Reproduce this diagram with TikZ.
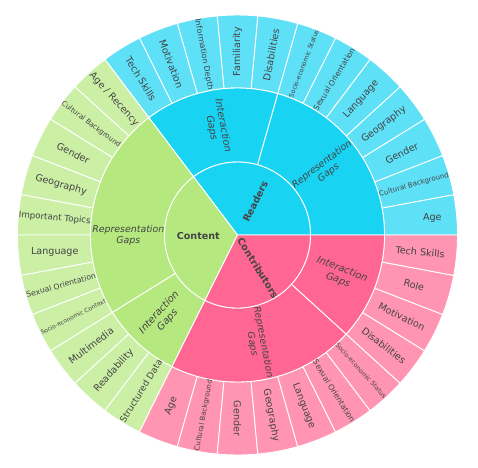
\documentclass[tikz,border=0pt]{standalone}
\usepackage{fontspec}
\setmainfont{DejaVu Sans}
\usepackage{graphicx}
\definecolor{colR}{HTML}{19D3F3}
\definecolor{colC}{HTML}{B6E880}
\definecolor{colP}{HTML}{FF6692}
\definecolor{leafR}{HTML}{5EE0F7}
\definecolor{leafC}{HTML}{CCEFA6}
\definecolor{leafP}{HTML}{FF94B3}
\definecolor{txt}{HTML}{444444}
\newsavebox\lblbox
\newcommand\fitlbl[1]{\sbox\lblbox{#1}\ifdim\wd\lblbox>72pt\resizebox{72pt}{!}{\usebox\lblbox}\else\usebox\lblbox\fi}
\newcommand\agerec{Age / Recency}
\tikzset{
  segline/.style={draw=white, line width=0.9pt},
  leaflbl/.style={text=txt, inner sep=0pt, font=\fontsize{9.6}{11}\selectfont},
  midlbl/.style={text=txt, inner sep=0pt, align=center, font=\fontsize{9.4}{11}\selectfont\itshape},
  toplbl/.style={text=txt, inner sep=0pt, font=\fontsize{9.6}{11}\selectfont\bfseries}
}
\newcommand\seg[5]{\filldraw[fill=#1,segline] ([shift={(#2:#4pt)}]C) arc[start angle=#2,end angle=#3,radius=#4pt] -- ([shift={(#3:#5pt)}]C) arc[start angle=#3,end angle=#2,radius=#5pt] -- cycle;}
\newcommand\pie[4]{\filldraw[fill=#1,segline] (C) -- ([shift={(#2:#4pt)}]C) arc[start angle=#2,end angle=#3,radius=#4pt] -- cycle;}
\begin{document}
\begin{tikzpicture}[x=1pt,y=1pt]
\useasboundingbox (0,0) rectangle (478,467);
\fill[white] (0,0) rectangle (478,467);
\coordinate (C) at (237.5,232);
% outer ring (leaves)
\foreach \k in {0,...,33}{
  \pgfmathsetmacro\aa{\k*360/34}
  \pgfmathsetmacro\ab{(\k+1)*360/34}
  \ifnum\k<12 \def\col{leafR}\else\ifnum\k<23 \def\col{leafC}\else\def\col{leafP}\fi\fi
  \seg{\col}{\aa}{\ab}{147}{220}
}
% middle ring
\seg{colR}{0}{74.1176}{73}{147}
\seg{colR}{74.1176}{127.0588}{73}{147}
\seg{colC}{127.0588}{211.7647}{73}{147}
\seg{colC}{211.7647}{243.5294}{73}{147}
\seg{colP}{243.5294}{317.6471}{73}{147}
\seg{colP}{317.6471}{360}{73}{147}
% inner pies
\pie{colR}{0}{127.0588}{73}
\pie{colC}{127.0588}{243.5294}{73}
\pie{colP}{243.5294}{360}{73}
% leaf labels
\node[leaflbl, name=leaf0] at (432.3,249.3) {\fitlbl{Age}};
\foreach \k/\t/\r in {
  1/Cultural Background/15.88, 2/Gender/26.47, 3/Geography/37.06, 4/Language/47.65,
  5/Sexual Orientation/58.24, 6/Socio-economic Status/68.82, 7/Disabilities/79.41,
  8/Familiarity/90, 9/Information Depth/-79.41, 10/Motivation/-68.82, 11/Tech Skills/-58.24,
  12/\agerec/-47.65, 13/Cultural Background/-37.06, 14/Gender/-26.47, 15/Geography/-15.88,
  16/Important Topics/-5.29, 17/Language/0, 18/Sexual Orientation/15.88,
  19/Socio-economic Context/26.47, 20/Multimedia/37.06, 21/Readability/47.65,
  22/Structured Data/58.24, 23/Age/68.82, 24/Cultural Background/79.41, 25/Gender/-90,
  26/Geography/-79.41, 27/Language/-68.82, 28/Sexual Orientation/-58.24,
  29/Socio-economic Status/-47.65, 30/Disabilities/-37.06, 31/Motivation/-26.47,
  32/Role/-15.88, 33/Tech Skills/-5.29}{
  \pgfmathsetmacro\m{(\k+0.5)*360/34}
  \node[leaflbl, rotate=\r, name=leaf\k] at ([shift={(\m:183.5pt)}]C) {\fitlbl{\t}};
}
% middle labels
\node[midlbl, rotate=37.06, name=rrep] at ([shift={(37.06:110pt)}]C) {Representation\\Gaps};
\node[midlbl, rotate=-79.41, name=rint, font=\fontsize{9.9}{11.5}\selectfont\itshape] at ([shift={(100.59:110pt)}]C) {Interaction\\Gaps};
\node[midlbl, name=crep] at (128.3,231.5) {Representation\\Gaps};
\node[midlbl, rotate=47.65, name=cint, font=\fontsize{9.9}{11.5}\selectfont\itshape] at ([shift={(227.65:110pt)}]C) {Interaction\\Gaps};
\node[midlbl, rotate=-79.41, name=prep] at ([shift={(280.59:110pt)}]C) {Representation\\Gaps};
\node[midlbl, rotate=-21.18, name=pint, font=\fontsize{9.9}{11.5}\selectfont\itshape] at ([shift={(338.82:110pt)}]C) {Interaction\\Gaps};
% top labels
\node[toplbl, rotate=63.53, name=readers] at ([shift={(62:38pt)}]C) {Readers};
\node[toplbl, name=content] at (198.3,231.3) {Content};
\node[toplbl, rotate=-58.24, name=contrib] at ([shift={(-58.24:39pt)}]C) {Contributors};
\end{tikzpicture}
\end{document}
